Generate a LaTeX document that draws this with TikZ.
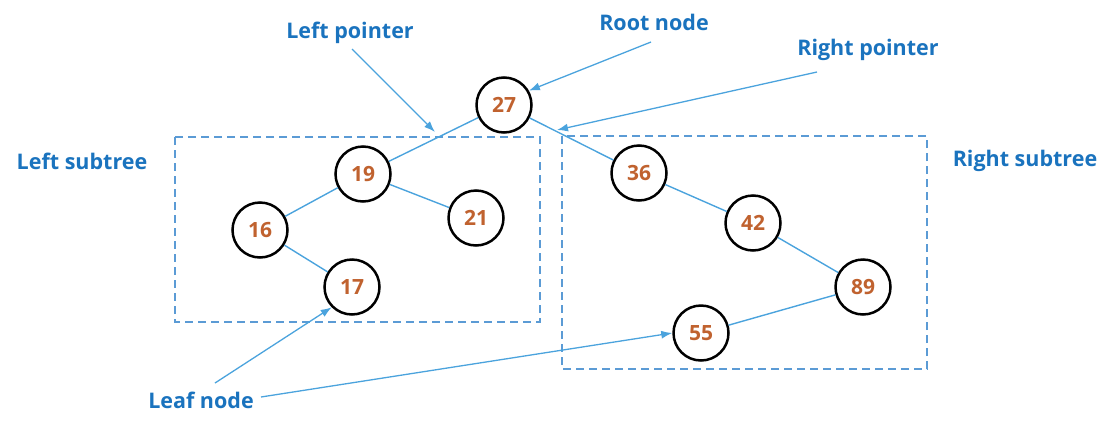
\documentclass[tikz,border=0pt]{standalone}
\usepackage{fontspec}
\setmainfont{Open Sans}
\usetikzlibrary{arrows.meta}
\definecolor{lblblue}{HTML}{1A73BE}
\definecolor{edgeblue}{HTML}{4BA3DD}
\definecolor{boxblue}{HTML}{5B9BD5}
\definecolor{numorange}{HTML}{C0622F}
\begin{document}
\begin{tikzpicture}[x=1pt,y=-1pt,
  tnode/.style={circle,draw=black,line width=2.5pt,minimum size=55pt,inner sep=0pt,
    font=\fontsize{21}{24}\selectfont\bfseries,text=numorange},
  lbl/.style={font=\fontsize{21.5}{24}\selectfont\bfseries,text=lblblue,inner sep=1pt},
  edge/.style={draw=edgeblue,line width=1.4pt},
  ptr/.style={draw=edgeblue,line width=1.3pt,-{Latex[length=11pt,width=8pt]}},
  subbox/.style={draw=boxblue,line width=1.5pt,dash pattern=on 8pt off 5pt}]
\useasboundingbox (0,0) rectangle (1110,426);
% subtree boxes
\draw[subbox] (175,137) rectangle (540,322);
\draw[subbox] (562,136) rectangle (927,369);
% tree nodes
\node[tnode] (n27) at (504,105) {27};
\node[tnode] (n19) at (363,174) {19};
\node[tnode] (n16) at (260,230) {16};
\node[tnode] (n21) at (476,218) {21};
\node[tnode] (n17) at (352,287) {17};
\node[tnode] (n36) at (639,173) {36};
\node[tnode] (n42) at (753,223) {42};
\node[tnode] (n89) at (863,287) {89};
\node[tnode] (n55) at (701,333) {55};
% edges
\draw[edge] (n27) -- (n19);
\draw[edge] (n19) -- (n16);
\draw[edge] (n19) -- (n21);
\draw[edge] (n16) -- (n17);
\draw[edge] (n27) -- (n36);
\draw[edge] (n36) -- (n42);
\draw[edge] (n42) -- (n89);
\draw[edge] (n89) -- (n55);
% labels
\node[lbl] (lp) at (350,33) {Left pointer};
\node[lbl] (rn) at (654,22) {Root node};
\node[lbl] (rp) at (868,50) {Right pointer};
\node[lbl] (ls) at (82,161) {Left subtree};
\node[lbl] (rs) at (1025,161) {Right subtree};
\node[lbl] (lf) at (201,400) {Leaf node};
% pointer arrows
\coordinate (lptip) at (435,132);
\coordinate (rptip) at (557,130);
\coordinate (lps) at (352,49);
\coordinate (rns) at (651,42);
\coordinate (rps) at (817,72);
\coordinate (lfs1) at (215,383);
\coordinate (lfs2) at (261,397);
\draw[ptr] (lps) -- (lptip);
\draw[ptr] (rns) -- (n27.30);
\draw[ptr] (rps) -- (rptip);
\draw[ptr] (lfs1) -- (n17.225);
\draw[ptr] (lfs2) -- (n55.west);
\end{tikzpicture}
\end{document}
